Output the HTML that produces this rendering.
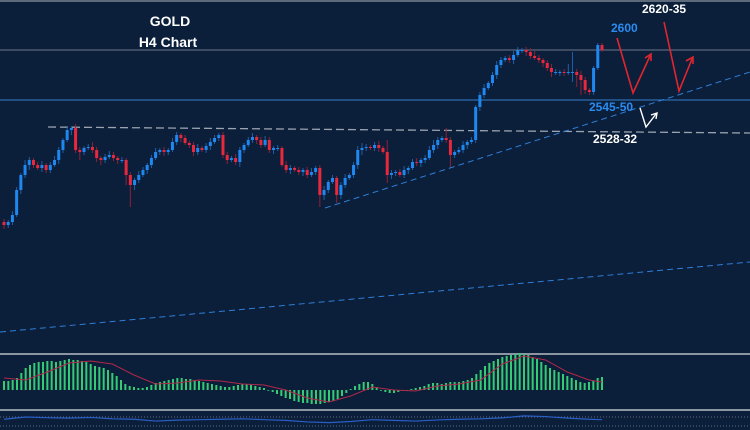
<!DOCTYPE html>
<html><head><meta charset="utf-8"><style>
html,body{margin:0;padding:0;background:#0b1e3a;}
svg{display:block;font-family:"Liberation Sans",Arial,sans-serif;}
</style></head><body>
<svg id="chart" width="750" height="430" viewBox="0 0 750 430" xmlns="http://www.w3.org/2000/svg">
<rect x="0" y="0" width="750" height="430" fill="#0b1e3a"/>
<line x1="0" y1="1" x2="750" y2="1" stroke="#5d6a7c" stroke-width="2"/>
<line x1="0" y1="50" x2="750" y2="50" stroke="#6c7888" stroke-width="1"/>
<line x1="0" y1="100" x2="750" y2="100" stroke="#2f6db0" stroke-width="1.3"/>
<line x1="48" y1="127" x2="750" y2="133" stroke="#9aa3ae" stroke-width="1.3" stroke-dasharray="8,4"/>
<line x1="325" y1="208" x2="750" y2="72" stroke="#2f7fd8" stroke-width="1" stroke-dasharray="6,4"/>
<line x1="0" y1="332" x2="750" y2="262" stroke="#2f7fd8" stroke-width="1" stroke-dasharray="6,4"/>
<g id="candles"></g>
<text x="170" y="26" fill="#fff" font-size="14" font-weight="bold" text-anchor="middle">GOLD</text>
<text x="168" y="47" fill="#fff" font-size="14" font-weight="bold" text-anchor="middle">H4 Chart</text>
<text x="611" y="32" fill="#2b8cf0" font-size="12" font-weight="bold">2600</text>
<text x="642" y="13" fill="#fff" font-size="12" font-weight="bold">2620-35</text>
<text x="589" y="111" fill="#2b8cf0" font-size="12" font-weight="bold">2545-50</text>
<text x="593" y="143" fill="#fff" font-size="12" font-weight="bold">2528-32</text>
<g fill="none" stroke="#e0262e" stroke-width="1.6">
<polyline points="617,38 633,93 650,56"/><polyline points="645,58 651,54 651,61"/></g>
<g fill="none" stroke="#e0262e" stroke-width="1.6">
<polyline points="664,22 679,91 692,59"/><polyline points="686,61 693,57 693,64"/></g>
<g fill="none" stroke="#fff" stroke-width="1.4">
<polyline points="640,108 646,127 656,114"/><polyline points="651,115 657,113 656,119"/></g>
<line x1="0" y1="354" x2="750" y2="354" stroke="#8c96a2" stroke-width="2"/>
<g id="macd"></g>
<line x1="0" y1="410" x2="750" y2="410" stroke="#8c96a2" stroke-width="2"/>
<line x1="0" y1="417" x2="750" y2="417" stroke="#7d8794" stroke-width="0.8" stroke-dasharray="1,2"/>
<line x1="0" y1="426" x2="750" y2="426" stroke="#7d8794" stroke-width="0.8" stroke-dasharray="1,2"/>
<g id="rsi"></g>
</svg>
<script>
const closes=[225,222,215,190,175,165,160,165,168,165,170,165,160,150,140,130,128,150,152,148,147,150,158,160,157,155,158,160,160,175,185,180,175,170,165,158,152,150,152,150,142,135,138,143,145,152,148,150,146,142,138,135,155,160,158,162,150,145,140,137,140,145,140,150,148,148,165,170,168,170,172,170,175,172,168,195,190,182,178,195,185,178,175,165,150,148,147,148,145,148,152,175,173,172,175,170,168,162,163,160,158,150,145,140,138,140,155,152,150,145,142,140,107,95,88,83,75,65,60,58,60,55,50,50,52,56,58,60,63,68,72,72,72,73,72,72,75,80,90,92,68,45,50].map(v=>2650-v);
const wickUp=[3,2,4,3,2,5,3,2,3,4,2,3,4,3,2,3,2,4,3,2,3,5,3,2,3,4,3,2,3,2,3,2,4,3,2,3,4,2,3,2,4,3,2,3,2,3,4,2,3,4,3,2,3,3,2,4,3,2,3,4,2,3,4,3,2,3,2,4,3,2,3,2,3,4,2,3,4,2,3,2,3,4,2,3,4,5,3,2,3,4,2,12,3,2,3,4,2,3,4,2,3,4,5,3,2,10,3,2,3,4,2,3,2,3,4,2,3,4,3,2,3,4,3,2,3,4,5,3,2,3,4,3,2,3,8,20,3,4,3,2,2];
const wickDn=[4,3,3,2,4,3,5,3,2,4,3,3,2,4,3,2,5,3,8,3,2,3,4,5,3,2,3,4,3,10,22,5,3,2,4,3,2,3,4,3,2,3,4,2,3,4,3,2,3,4,2,3,3,4,2,3,5,3,2,3,4,3,2,3,4,3,2,3,4,2,3,4,3,2,3,12,5,3,2,8,4,3,2,3,4,5,3,2,3,4,2,8,4,3,2,3,4,2,3,4,3,2,3,4,2,3,12,3,2,3,4,2,3,4,3,2,3,4,3,2,3,4,2,3,4,3,2,3,4,3,5,3,4,3,2,10,12,15,4,3,3];
const histogram=[9,9,10,12,17,22,25,27,28,28,29,29,28,29,30,31,30,30,29,28,26,24,23,22,20,17,14,10,6,4,3,2,2,3,5,7,8,9,10,11,12,12,11,11,10,9,8,7,6,5,4,3,3,4,5,6,6,5,4,3,2,0,-2,-4,-6,-8,-9,-11,-12,-13,-13,-14,-14,-14,-13,-12,-11,-9,-6,-3,1,4,6,8,8,6,3,0,-2,-3,-3,-2,-1,0,1,2,3,4,6,7,7,6,7,8,8,8,9,10,12,16,20,24,27,29,31,33,34,35,36,37,36,35,33,31,28,25,22,20,18,16,14,12,10,8,7,8,9,12,13];
const signalIdx=[0,5,10,15,20,25,30,35,40,45,50,55,60,65,70,75,80,85,90,95,100,105,110,115,120,125,130,135,138];
const signalVals=[12,10,18,27,29,26,15,6,7,10,9,6,5,0,-8,-12,-6,3,0,-1,4,6,10,26,34,30,18,10,8];
const rsiIdx=[0,5,10,15,20,25,30,35,40,45,50,55,60,65,70,75,80,85,90,95,100,105,110,115,120,125,130,135,138];
const rsiVals=[60,70,67,65,68,62,60,52,56,58,60,62,58,55,48,45,50,58,55,52,57,60,62,66,75,72,65,60,58];

const NS="http://www.w3.org/2000/svg";
const n=closes.length;
const xOf=i=>4+i*(598/(n-1));
const nh=histogram.length;
const xInd=i=>4+i*(598/(nh-1));
const yPrice=p=>2650-p;
const yMacd=v=>390-v;
const yRsi=v=>417+(70-v)*(9/40);
function mk(tag,attrs,parent){const e=document.createElementNS(NS,tag);for(const k in attrs)e.setAttribute(k,attrs[k]);parent.appendChild(e);return e;}
const cg=document.getElementById('candles');
for(let i=0;i<n;i++){
  const o=i?closes[i-1]:closes[0]+3, c=closes[i];
  const up=c>=o, col=up?'#1e88f0':'#e8283c', wcol=up?'#1f5fa8':'#8f2236';
  const hi=Math.max(o,c)+(wickUp[i]||2), lo=Math.min(o,c)-(wickDn[i]||2);
  const x=xOf(i);
  const w=mk('line',{x1:x,x2:x,y1:yPrice(hi),y2:yPrice(lo),stroke:wcol,'stroke-width':1},cg);
  
  
  const top=yPrice(Math.max(o,c)),bot=yPrice(Math.min(o,c));
  const b=mk('rect',{x:x-1.5,y:top,width:3,height:Math.max(1,bot-top),fill:col},cg);
  
  
}
const mg=document.getElementById('macd');
for(let i=0;i<nh;i++){
  const v=histogram[i],x=xInd(i);
  const r=mk('rect',{x:x-1,y:Math.min(yMacd(v),yMacd(0)),width:2,height:Math.max(0.8,Math.abs(v)),fill:'#33cc74'},mg);
  
  
}
const sp=mk('polyline',{points:signalIdx.map((k,j)=>xInd(k)+','+yMacd(signalVals[j])).join(' '),fill:'none',stroke:'#b0294a','stroke-width':1},mg);


const rg=document.getElementById('rsi');
const rl=mk('polyline',{points:rsiIdx.map((k,j)=>xInd(k)+','+yRsi(rsiVals[j])).join(' '),fill:'none',stroke:'#2a5fc4','stroke-width':1.2},rg);


</script>
</body></html>
